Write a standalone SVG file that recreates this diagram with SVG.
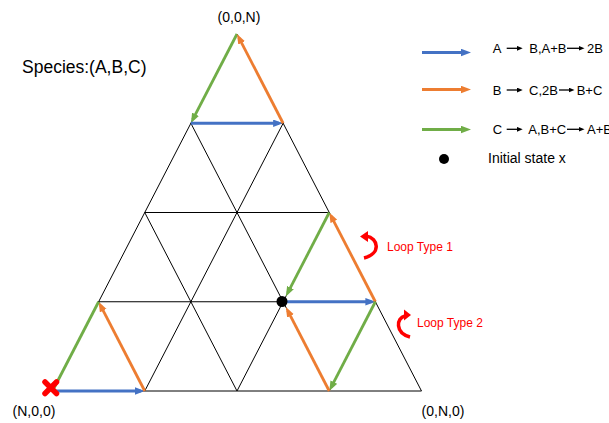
<svg xmlns="http://www.w3.org/2000/svg" width="609" height="423" viewBox="0 0 609 423">
<style>
text{font-family:"Liberation Sans",Arial,sans-serif;fill:#000}
.grid{stroke:#000;stroke-width:1;fill:none}
.b{stroke:#4472C4;stroke-width:2.8;fill:none}
.o{stroke:#ED7D31;stroke-width:2.8;fill:none}
.g{stroke:#70AD47;stroke-width:2.8;fill:none}
.k{stroke:#000;stroke-width:1.3;fill:none}
.red{fill:#FF0000}
.lbl{font-size:14px}
.leg{font-size:13px}
.loop{font-size:12px;fill:#FF0000}
</style>
<defs>
<marker id="hb" markerUnits="userSpaceOnUse" markerWidth="10" markerHeight="8" refX="6" refY="3.75" orient="auto"><path d="M0,0 L10,3.75 L0,7.5 z" fill="#4472C4"/></marker>
<marker id="ho" markerUnits="userSpaceOnUse" markerWidth="10" markerHeight="8" refX="6" refY="3.75" orient="auto"><path d="M0,0 L10,3.75 L0,7.5 z" fill="#ED7D31"/></marker>
<marker id="hg" markerUnits="userSpaceOnUse" markerWidth="10" markerHeight="8" refX="6" refY="3.75" orient="auto"><path d="M0,0 L10,3.75 L0,7.5 z" fill="#70AD47"/></marker>
<marker id="hk" markerUnits="userSpaceOnUse" markerWidth="7" markerHeight="6" refX="3" refY="2.5" orient="auto"><path d="M0,0 L6,2.5 L0,5 z" fill="#000"/></marker>
</defs>

<g id="grid">
<polygon class="grid" points="237,34 52.5,391 421.5,391"/>
<line class="grid" x1="190.875" y1="123.25" x2="283.125" y2="123.25"/>
<line class="grid" x1="144.75" y1="212.5" x2="329.25" y2="212.5"/>
<line class="grid" x1="98.625" y1="301.75" x2="375.375" y2="301.75"/>
<line class="grid" x1="144.75" y1="391" x2="283.125" y2="123.25"/>
<line class="grid" x1="237" y1="391" x2="329.25" y2="212.5"/>
<line class="grid" x1="329.25" y1="391" x2="375.375" y2="301.75"/>
<line class="grid" x1="329.25" y1="391" x2="190.875" y2="123.25"/>
<line class="grid" x1="237" y1="391" x2="144.75" y2="212.5"/>
<line class="grid" x1="144.75" y1="391" x2="98.625" y2="301.75"/>
</g>

<g id="connectors">
<line class="g" x1="237" y1="34" x2="192.7" y2="119.7" marker-end="url(#hg)"/>
<line class="b" x1="190.875" y1="123.25" x2="279.1" y2="123.25" marker-end="url(#hb)"/>
<line class="o" x1="283.125" y1="123.25" x2="238.84" y2="37.55" marker-end="url(#ho)"/>
<line class="b" x1="52.5" y1="391" x2="140.75" y2="391" marker-end="url(#hb)"/>
<line class="o" x1="144.75" y1="391" x2="100.47" y2="305.3" marker-end="url(#ho)"/>
<line class="g" x1="98.625" y1="301.75" x2="52.5" y2="391"/>
<line class="b" x1="283.125" y1="301.75" x2="371.375" y2="301.75" marker-end="url(#hb)"/>
<line class="o" x1="375.375" y1="301.75" x2="331.09" y2="216.05" marker-end="url(#ho)"/>
<line class="g" x1="329.25" y1="212.5" x2="287.7" y2="292.9" marker-end="url(#hg)"/>
<line class="g" x1="375.375" y1="301.75" x2="331.09" y2="387.45" marker-end="url(#hg)"/>
<line class="o" x1="329.25" y1="391" x2="287.7" y2="310.6" marker-end="url(#ho)"/>
</g>

<g id="initial-state">
<circle cx="282" cy="301.5" r="5.5" fill="#000"/>
</g>
<g id="absorbing-state">
<line x1="45" y1="382" x2="56.5" y2="393.5" stroke="#FF0000" stroke-width="5.5" stroke-linecap="round"/>
<line x1="56.5" y1="382" x2="45" y2="393.5" stroke="#FF0000" stroke-width="5.5" stroke-linecap="round"/>
</g>

<g id="vertex-labels">
<text class="lbl" x="239" y="22" text-anchor="middle">(0,0,N)</text>
<text class="lbl" x="34" y="416" text-anchor="middle">(N,0,0)</text>
<text class="lbl" x="443" y="416" text-anchor="middle">(0,N,0)</text>
</g>

<g id="title">
<text x="22" y="72.5" font-size="17.5">Species:(A,B,C)</text>
</g>

<g id="loop1">
<path d="M366,236 C379,238 381,254 364,258" fill="none" stroke="#FF0000" stroke-width="3.5"/>
<polygon class="red" points="360,236.5 368,231 368,242"/>
<text class="loop" x="387" y="251">Loop Type 1</text>
</g>
<g id="loop2">
<path d="M405,316 C396,318 395,333 410,337" fill="none" stroke="#FF0000" stroke-width="3.5"/>
<polygon class="red" points="411,315 404,309.5 404,320.5"/>
<text class="loop" x="417" y="327">Loop Type 2</text>
</g>

<g id="legend">
<line class="b" x1="422" y1="52.5" x2="467" y2="52.5" marker-end="url(#hb)"/>
<line class="o" x1="422" y1="89.5" x2="467" y2="89.5" marker-end="url(#ho)"/>
<line class="g" x1="422" y1="129.5" x2="467" y2="129.5" marker-end="url(#hg)"/>
<circle cx="444" cy="159" r="5" fill="#000"/>

<text class="leg" y="52.5"><tspan x="492.7">A</tspan><tspan x="529.3">B,A+B</tspan><tspan x="587">2B</tspan></text>
<line class="k" x1="506.7" y1="48.3" x2="519.7" y2="48.3" marker-end="url(#hk)"/>
<line class="k" x1="567" y1="48.3" x2="581.5" y2="48.3" marker-end="url(#hk)"/>

<text class="leg" y="95"><tspan x="492.7">B</tspan><tspan x="529">C,2B</tspan><tspan x="576.7">B+C</tspan></text>
<line class="k" x1="506.7" y1="90" x2="519.7" y2="90" marker-end="url(#hk)"/>
<line class="k" x1="559" y1="90" x2="571.5" y2="90" marker-end="url(#hk)"/>

<text class="leg" y="134"><tspan x="492.7">C</tspan><tspan x="528.3">A,B+C</tspan><tspan x="587">A+B</tspan></text>
<line class="k" x1="506.7" y1="129.3" x2="519.7" y2="129.3" marker-end="url(#hk)"/>
<line class="k" x1="567" y1="129.3" x2="581.5" y2="129.3" marker-end="url(#hk)"/>

<text x="488" y="163" font-size="14">Initial state x</text>
</g>
</svg>
